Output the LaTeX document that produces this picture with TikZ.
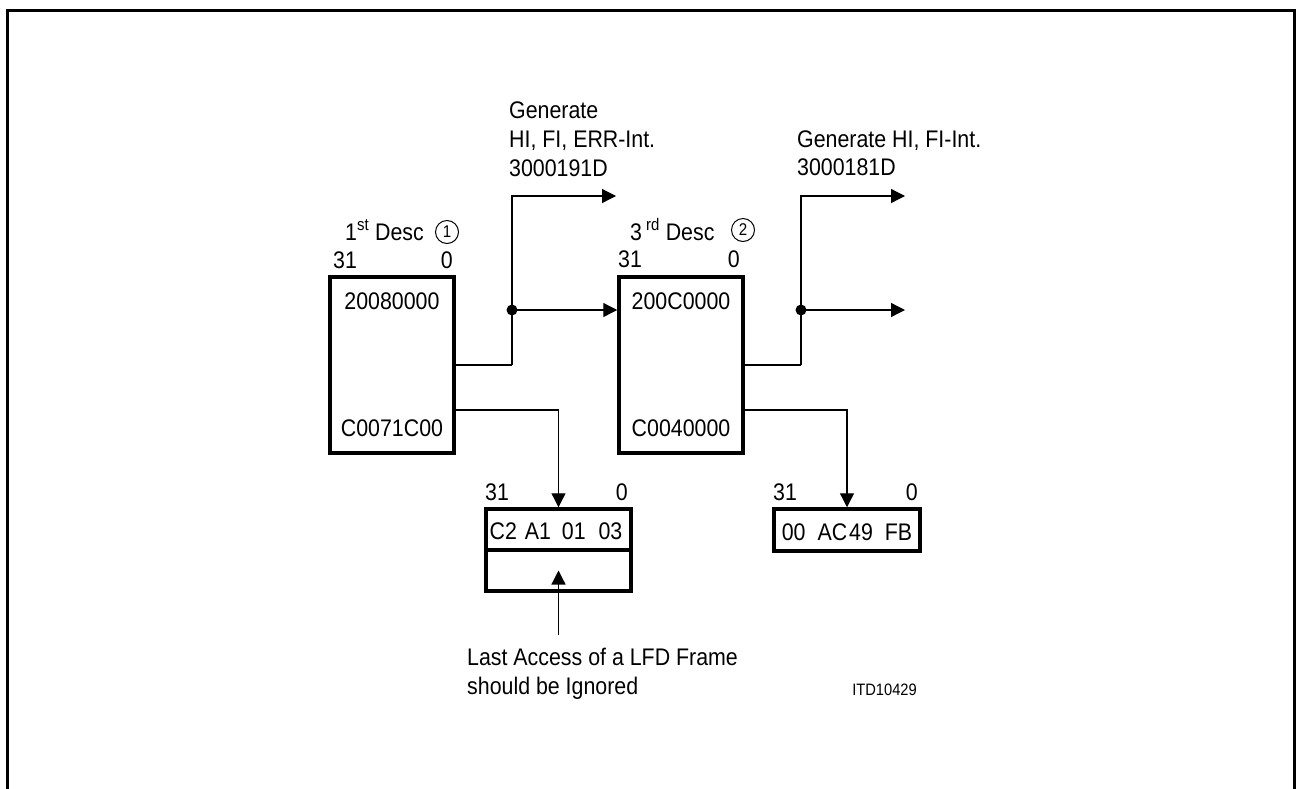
\documentclass[tikz,border=0pt]{standalone}
\usepackage{fontspec}
\setmainfont{Liberation Sans}[FakeStretch=0.89]
\usetikzlibrary{arrows.meta}
\begin{document}
\begin{tikzpicture}[x=1pt,y=-1pt,
  box/.style={draw, line width=3.5pt, inner sep=0pt},
  conn/.style={line width=1.3pt},
  trunk/.style={line width=2.6pt},
  arr/.style={-{Triangle[length=14pt,width=14pt]}},
  txt/.style={inner sep=0pt, font=\fontsize{24}{29}\selectfont},
  small/.style={inner sep=0pt, font=\fontsize{16.5}{20}\selectfont},
  num/.style={draw, circle, line width=1pt, minimum size=23pt, inner sep=0pt, font=\fontsize{17}{17}\selectfont},
]
\useasboundingbox (0,0) rectangle (1297,788);
\draw[line width=3pt] (7,792) -- (7,10) -- (1294.5,10) -- (1294.5,792);

% descriptor boxes
\node[box, minimum width=124pt, minimum height=176pt] (d1) at (392,365) {};
\node[box, minimum width=124pt, minimum height=176pt] (d2) at (681,365) {};
\node[txt, anchor=base] (d1a) at (392,309) {20080000};
\node[txt, anchor=base] (d1b) at (392,436) {C0071C00};
\node[txt, anchor=base] (d2a) at (681,309) {200C0000};
\node[txt, anchor=base] (d2b) at (681,436) {C0040000};

% headings
\node[txt, anchor=base west] (h1) at (345,240) {1\textsuperscript{st} Desc};
\node[num] (c1) at (447,232) {1};
\node[txt, anchor=base west] (h2) at (630,240) {3\,\textsuperscript{rd} Desc};
\node[num] (c2) at (743,230) {2};
\node[txt, anchor=base west] (l1a) at (333,268) {31};
\node[txt, anchor=base east] (l1b) at (453,268) {0};
\node[txt, anchor=base west] (l2a) at (618,267) {31};
\node[txt, anchor=base east] (l2b) at (740,267) {0};

% data buffers
\node[box, minimum width=145pt, minimum height=41pt] (b3a) at (558.5,529.5) {};
\node[box, minimum width=145pt, minimum height=41pt] (b3b) at (558.5,570.5) {};
\node[box, minimum width=146pt, minimum height=42pt] (b4) at (847,530) {};
\node[txt, anchor=base] (b3t) at (556,539) {C2\hspace{2pt} A1\hspace{5pt} 01\hspace{7pt} 03};
\node[txt, anchor=base] (b4t) at (847,540) {00\hspace{6pt} AC\hspace{-4pt} 49\hspace{6pt} FB};
\node[txt, anchor=base west] (l3a) at (485,500) {31};
\node[txt, anchor=base east] (l3b) at (628,500) {0};
\node[txt, anchor=base west] (l4a) at (773,500) {31};
\node[txt, anchor=base east] (l4b) at (918,500) {0};

% interrupt texts
\node[txt, anchor=base west] (g1a) at (509,118) {Generate};
\node[txt, anchor=base west] (g1b) at (509,147) {HI, FI, ERR-Int.};
\node[txt, anchor=base west] (g1c) at (509,176) {3000191D};
\node[txt, anchor=base west] (g2a) at (797,147) {Generate HI, FI-Int.};
\node[txt, anchor=base west] (g2b) at (797,175) {3000181D};

% bottom notes
\node[txt, anchor=base west] (n1) at (467,665) {Last Access of a LFD Frame};
\node[txt, anchor=base west] (n2) at (467,694) {should be Ignored};
\node[small, anchor=base east] (itd) at (917,695) {ITD10429};

% connectors, first descriptor
\coordinate (j1) at (512,365);
\coordinate (p1) at (512,310);
\coordinate (o1) at (616,196);
\coordinate (k1) at (558.5,410);
\draw[conn] (d1.east |- j1) -- (j1);
\draw[trunk] (j1) -- (p1);
\draw[conn,arr] (p1) |- (o1);
\draw[conn,arr] (p1) -- (d2.west |- p1);
\fill (p1) circle (5.5pt);
\draw[conn,arr] (d1.east |- k1) -- (k1) -- (k1 |- b3a.north);

% connectors, third descriptor
\coordinate (j2) at (801,365);
\coordinate (p2) at (801,310);
\coordinate (o2) at (905,196);
\coordinate (o3) at (905,310);
\coordinate (k2) at (847,410);
\draw[conn] (d2.east |- j2) -- (j2);
\draw[trunk] (j2) -- (p2);
\draw[conn,arr] (p2) |- (o2);
\draw[conn,arr] (p2) -- (o3);
\fill (p2) circle (5.5pt);
\draw[conn,arr] (d2.east |- k2) -- (k2) -- (k2 |- b4.north);

% note arrow
\coordinate (u1) at (558.5,635);
\draw[conn,arr] (u1) -- (b3b.center);
\end{tikzpicture}
\end{document}
